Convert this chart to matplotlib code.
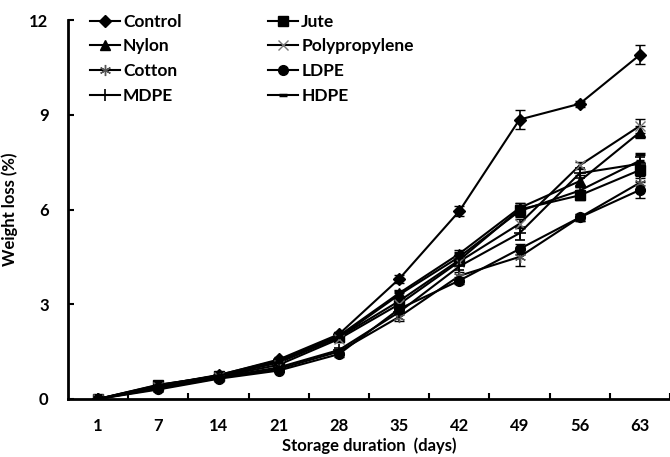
import matplotlib.pyplot as plt
from matplotlib.lines import Line2D
import numpy as np

plt.rcParams.update({"font.family": ["Lato", "DejaVu Sans"], "font.weight": "bold",
                     "axes.labelweight": "bold"})

days = ["1", "7", "14", "21", "28", "35", "42", "49", "56", "63"]

control = [0, 0.40, 0.75, 1.25, 2.05, 3.80, 5.95, 8.85, 9.35, 10.90]
jute = [0, 0.45, 0.72, 1.15, 1.95, 3.10, 4.40, 6.00, 6.45, 7.25]
nylon = [0, 0.42, 0.76, 1.22, 2.00, 3.35, 4.60, 6.05, 6.90, 8.45]
polyprop = [0, 0.38, 0.70, 1.08, 1.90, 3.00, 4.35, 5.55, 7.40, 8.65]
cotton = [0, 0.33, 0.66, 0.95, 1.50, 2.60, 3.90, 4.50, 5.75, 6.85]
ldpe = [0, 0.30, 0.64, 0.90, 1.42, 2.85, 3.75, 4.75, 5.75, 6.62]
mdpe = [0, 0.35, 0.68, 1.00, 1.55, 2.75, 4.20, 5.25, 7.15, 7.45]
hdpe = [0, 0.44, 0.74, 1.18, 1.95, 3.30, 4.50, 5.95, 6.60, 7.55]

err_control = [0, 0.05, 0.06, 0.08, 0.08, 0.12, 0.15, 0.30, 0.10, 0.30]
err_jute = [0, 0.05, 0.05, 0.06, 0.08, 0.10, 0.12, 0.20, 0.15, 0.25]
err_nylon = [0, 0.05, 0.05, 0.06, 0.08, 0.10, 0.12, 0.15, 0.20, 0.20]
err_polyprop = [0, 0.05, 0.05, 0.06, 0.08, 0.12, 0.12, 0.15, 0.12, 0.22]
err_cotton = [0, 0.05, 0.05, 0.06, 0.08, 0.12, 0.12, 0.30, 0.12, 0.20]
err_ldpe = [0, 0.05, 0.05, 0.06, 0.08, 0.12, 0.10, 0.15, 0.10, 0.25]
err_mdpe = [0, 0.05, 0.05, 0.06, 0.08, 0.10, 0.12, 0.20, 0.15, 0.20]
err_hdpe = [0, 0.05, 0.05, 0.06, 0.08, 0.10, 0.12, 0.15, 0.15, 0.20]

# name, values, errors, marker, size, colour, marker edge width
series = [
    ("Control", control, err_control, "D", 6, "k", 1),
    ("Jute", jute, err_jute, "s", 6.5, "k", 1),
    ("Nylon", nylon, err_nylon, "^", 7, "k", 1),
    ("Polypropylene", polyprop, err_polyprop, "x", 7, "#777777", 1),
    ("Cotton", cotton, err_cotton, (6, 2, 0), 8, "#555555", 1),
    ("LDPE", ldpe, err_ldpe, "o", 7, "k", 1),
    ("MDPE", mdpe, err_mdpe, "+", 9, "k", 1.2),
    ("HDPE", hdpe, err_hdpe, "_", 6, "k", 2.5),
]

fig = plt.figure(figsize=(6.7, 4.57), dpi=100)
ax = fig.add_axes([0.1015, 0.127, 0.8985, 0.829])
x = np.arange(len(days))

handles = {}
for name, vals, err, mk, ms, mc, mw in series:
    ax.errorbar(x, vals, yerr=err, color="k", lw=1.5, marker=mk, ms=ms,
                mfc=mc, mec=mc, mew=mw, ecolor="k", elinewidth=1.2,
                capsize=3.5, capthick=1.2)
    handles[name] = Line2D([], [], color="k", lw=1.5, marker=mk, ms=ms,
                           mfc=mc, mec=mc, mew=mw)

ax.set_xlim(-0.5, len(days) - 0.5)
ax.set_ylim(0, 12)
ax.set_yticks([0, 3, 6, 9, 12])
ax.set_xticks(x)
ax.set_xticklabels(days, fontweight="bold")
ax.set_yticklabels(["0", "3", "6", "9", "12"], fontweight="bold")
ax.set_xticks(np.arange(len(days)) + 0.5, minor=True)
ax.tick_params(axis="x", which="major", length=0, labelsize=12, pad=14)
ax.tick_params(axis="x", which="minor", direction="in", length=4, width=1.5)
ax.tick_params(axis="y", direction="in", length=4, width=1.5, labelsize=12, pad=14)
for s in ("top", "right"):
    ax.spines[s].set_visible(False)
for s in ("left", "bottom"):
    ax.spines[s].set_linewidth(2)

ax.set_xlabel("Storage duration  (days)", fontsize=12, labelpad=2)
ax.set_ylabel("Weight loss (%)", fontsize=12, labelpad=8)

order = ["Control", "Nylon", "Cotton", "MDPE", "Jute", "Polypropylene", "LDPE", "HDPE"]
ax.legend([handles[n] for n in order], order, ncol=2,
          loc="upper left", bbox_to_anchor=(0.025, 1.035), frameon=False,
          prop={"size": 12.5, "weight": "bold"}, handlelength=1.7, handletextpad=0.2,
          columnspacing=5.0, labelspacing=0.5, borderaxespad=0)

fig.savefig("out.png", dpi=100)
